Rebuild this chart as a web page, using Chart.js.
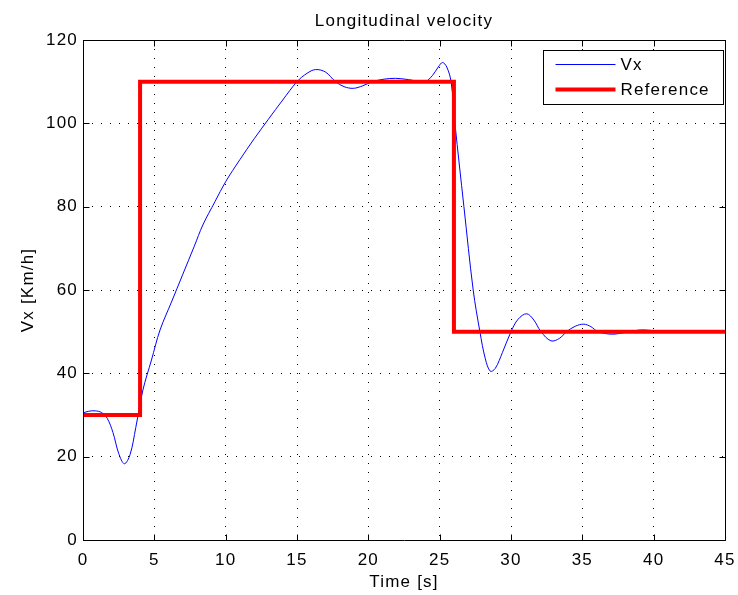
<!DOCTYPE html>
<html>
<head>
<meta charset="utf-8">
<script src="https://cdn.jsdelivr.net/npm/chart.js@4/dist/chart.umd.min.js"></script>
<style>
html,body{margin:0;padding:0;background:#fff;}
#wrap{width:738px;height:595px;}
</style>
</head>
<body>
<div id="wrap"><canvas id="c" width="738" height="595"></canvas></div>
<script>
// ---- data ----
const vxTime = [0, 0.4, 0.85, 1.3, 1.7, 2.1, 2.5, 2.9, 3.3, 3.7, 4.2, 4.8, 5.4, 6.2, 7.0, 7.8, 8.4, 9.25, 10.0, 11.0, 12.0, 13.0, 14.0, 15.0, 15.7, 16.3, 17.0, 17.7, 18.3, 18.95, 19.6, 20.3, 21.1, 21.9, 22.8, 23.5, 24.0, 24.5, 24.9, 25.2, 25.5, 25.8, 26.07, 26.7, 27.35, 27.82, 28.2, 28.55, 28.9, 29.4, 30.0, 30.5, 31.1, 31.6, 32.1, 32.8, 33.4, 33.9, 34.5, 35.1, 35.6, 36.1, 37.05, 38.0, 39.0, 39.8, 40.5, 45];
const vxValues = [30.5, 30.9, 31.0, 30.6, 29.2, 25.8, 20.8, 18.3, 20.5, 27, 36, 43.2, 50.4, 57.1, 63.8, 70.5, 75.6, 81.2, 86, 91.3, 96.3, 101, 105.6, 110, 112, 112.9, 112.3, 110, 108.8, 108.4, 109, 110, 110.6, 110.8, 110.5, 110.1, 110, 111.5, 113.5, 114.6, 113.5, 110, 100, 80, 60, 50, 43.5, 40.5, 41.2, 45, 50, 53, 54.3, 52.8, 50, 47.8, 48.4, 50, 51.3, 51.8, 51.2, 50, 49.4, 49.8, 50.4, 50.3, 50, 50];
const refTime = [0, 4, 4, 26, 26, 45];
const refValues = [30, 30, 110, 110, 50, 50];
const seriesLabels = ['Vx', 'Reference'];
const xTickLabels = [0, 5, 10, 15, 20, 25, 30, 35, 40, 45];
const yTickLabels = [0, 20, 40, 60, 80, 100, 120];

const FONT = '"Liberation Sans", Arial, Helvetica, sans-serif';
const FS = 17;

const framePlugin = {
  id: 'frame',
  beforeDraw(chart) {
    chart.ctx.letterSpacing = '1.2px';
  },
  afterDatasetsDraw(chart) {
    const ctx = chart.ctx;
    const ca = chart.chartArea;
    const xs = chart.scales.x, ys = chart.scales.y;
    ctx.save();
    ctx.strokeStyle = '#000';
    ctx.lineWidth = 1;
    const L = Math.round(ca.left) + 0.5, R = Math.round(ca.right) + 0.5;
    const T = Math.round(ca.top) + 0.5, B = Math.round(ca.bottom) + 0.5;
    ctx.beginPath();
    ctx.rect(L, T, R - L, B - T);
    // inward tick marks
    const tl = 6;
    xTickLabels.forEach(v => {
      const px = Math.round(xs.getPixelForValue(v)) + 0.5;
      ctx.moveTo(px, B); ctx.lineTo(px, B - tl);
      ctx.moveTo(px, T); ctx.lineTo(px, T + tl);
    });
    yTickLabels.forEach(v => {
      const py = Math.round(ys.getPixelForValue(v)) + 0.5;
      ctx.moveTo(L, py); ctx.lineTo(L + tl, py);
      ctx.moveTo(R, py); ctx.lineTo(R - tl, py);
    });
    ctx.stroke();
    ctx.restore();
  },
  afterDraw(chart) {
    const ctx = chart.ctx;
    const ca = chart.chartArea;
    const ds = chart.data.datasets;
    ctx.save();
    ctx.letterSpacing = '1.2px';
    const bx = Math.round(ca.right) - 182 + 0.5, by = Math.round(ca.top) + 10 + 0.5;
    const bw = 180, bh = 54;
    ctx.fillStyle = '#fff';
    ctx.fillRect(bx, by, bw, bh);
    ctx.strokeStyle = '#000';
    ctx.lineWidth = 1;
    ctx.strokeRect(bx, by, bw, bh);
    const order = [1, 0];
    ctx.font = FS + 'px ' + FONT;
    ctx.textBaseline = 'middle';
    ctx.textAlign = 'left';
    order.forEach((di, i) => {
      const d = ds[di];
      const y = by + 14 + i * 25;
      ctx.strokeStyle = d.borderColor;
      ctx.lineWidth = d.borderWidth;
      ctx.beginPath();
      ctx.moveTo(bx + 12, y);
      ctx.lineTo(bx + 72, y);
      ctx.stroke();
      ctx.fillStyle = '#000';
      ctx.fillText(d.label, bx + 77, y + 1);
    });
    ctx.restore();
  }
};

const gridOpts = {
  color: '#000',
  lineWidth: 1,
  drawTicks: false
};
const borderOpts = { display: false, dash: [1, 8] };

new Chart(document.getElementById('c'), {
  type: 'scatter',
  data: {
    datasets: [
      {
        label: seriesLabels[1],
        data: refTime.map((t, i) => ({ x: t, y: refValues[i] })),
        showLine: true,
        borderColor: '#ff0000',
        backgroundColor: '#ff0000',
        borderWidth: 4,
        pointRadius: 0,
        tension: 0,
        borderJoinStyle: 'miter',
        order: 0
      },
      {
        label: seriesLabels[0],
        data: vxTime.map((t, i) => ({ x: t, y: vxValues[i] })),
        showLine: true,
        borderColor: '#0000ff',
        backgroundColor: '#0000ff',
        borderWidth: 1,
        pointRadius: 0,
        tension: 0.35,
        order: 1
      }
    ]
  },
  options: {
    responsive: false,
    animation: false,
    devicePixelRatio: 1,
    layout: { padding: { left: 0, right: 13, top: 0, bottom: 0 } },
    plugins: {
      legend: { display: false },
      tooltip: { enabled: false },
      title: {
        display: true,
        text: 'Longitudinal velocity',
        fullSize: false,
        color: '#000',
        font: { family: FONT, size: FS, weight: 'normal' },
        padding: { top: 11, bottom: 8.6 }
      }
    },
    scales: {
      x: {
        type: 'linear',
        min: 0, max: 45,
        afterBuildTicks(s) { s.ticks = xTickLabels.map(v => ({ value: v })); },
        afterFit(s) { s.height = 55; s.paddingLeft = 0; s.paddingRight = 0; },
        ticks: { color: '#000', font: { family: FONT, size: FS }, padding: 10, maxRotation: 0, callback: v => String(v) },
        grid: gridOpts,
        border: borderOpts,
        title: { display: true, text: 'Time [s]', color: '#000', font: { family: FONT, size: FS }, padding: { top: 0, bottom: 2 } }
      },
      y: {
        type: 'linear',
        min: 0, max: 120,
        afterBuildTicks(s) { s.ticks = yTickLabels.map(v => ({ value: v })); },
        afterFit(s) { s.width = 83; s.paddingTop = 0; s.paddingBottom = 0; },
        ticks: { color: '#000', font: { family: FONT, size: FS }, padding: 5, callback: v => String(v) },
        grid: gridOpts,
        border: borderOpts,
        title: { display: true, text: 'Vx [Km/h]', color: '#000', font: { family: FONT, size: FS }, padding: { top: 18, bottom: 0 } }
      }
    }
  },
  plugins: [framePlugin]
});
</script>
</body>
</html>
